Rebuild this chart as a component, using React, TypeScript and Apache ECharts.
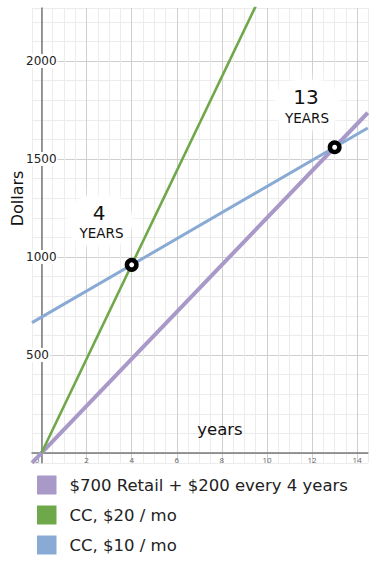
import React, { useEffect, useRef } from "react";
import * as echarts from "echarts";

const seriesNames = ["$700 Retail + $200 every 4 years", "CC, $20 / mo", "CC, $10 / mo"];
const seriesColors = ["#a999c8", "#6fa84a", "#89aad4"];
const purplePts = [[-0.42, -50], [14.47, 1736]];
const greenPts = [[0, 0], [9.5, 2280]];
const bluePts = [[-0.42, 665], [14.47, 1658]];
const crossings = [[4, 960], [13, 1560]];
const crossingLabels = [["4", "YEARS"], ["13", "YEARS"]];
const xExtent = [-0.42, 14.47];
const yExtent = [-50, 2270];

const FONT = "'DejaVu Sans', 'Open Sans', sans-serif";
const FONT2 = "'Open Sans', 'Noto Sans', sans-serif";

export default function App() {
  const ref = useRef<HTMLDivElement>(null);
  useEffect(() => {
    if (!ref.current) return;
    const chart = echarts.init(ref.current, undefined, { renderer: "svg" });
    const minorC = "#ececec";
    const majorC = "#cfcfcf";
    const option: any = {
      animation: false,
      backgroundColor: "#ffffff",
      grid: { left: 32, right: 9.2, top: 8.1, bottom: 104.2, containLabel: false },
      xAxis: {
        type: "value",
        min: xExtent[0],
        max: xExtent[1],
        splitNumber: 30,
        axisLine: { onZero: true, lineStyle: { color: "#7a7a7a", width: 1.5 } },
        axisTick: { show: false },
        axisLabel: {
          margin: -7.5,
          fontSize: 8,
          color: "#666",
          fontFamily: FONT2,
          showMinLabel: false,
          showMaxLabel: false,
          formatter: (v: number) => {
            if (Math.abs(v) < 1e-9) return "{z|0}";
            return Math.abs(v % 2) < 1e-9 && v > 0 ? String(v) : "";
          },
          rich: { z: { fontSize: 8, color: "#666", padding: [0, 9, 0, 0] } },
        },
        splitLine: { show: true, lineStyle: { color: [minorC, majorC, minorC, minorC], width: 1 } },
      },
      yAxis: {
        type: "value",
        min: yExtent[0],
        max: yExtent[1],
        splitNumber: 23,
        axisLine: { onZero: true, lineStyle: { color: "#7a7a7a", width: 1.5 } },
        axisTick: { show: false },
        axisLabel: {
          margin: 7,
          align: "left",
          fontSize: 12,
          color: "#222",
          fontFamily: FONT,
          backgroundColor: "#ffffff",
          padding: [1, 1, 1, 1],
          showMinLabel: false,
          showMaxLabel: false,
          formatter: (v: number) => (v > 0 && Math.abs(v % 500) < 1e-9 ? String(v) : ""),
        },
        splitLine: { show: true, lineStyle: { color: [minorC, majorC, minorC, minorC, minorC], width: 1 } },
      },
      legend: {
        orient: "vertical",
        left: 37,
        top: 475.5,
        padding: 0,
        itemWidth: 19.5,
        itemHeight: 19,
        itemGap: 11,
        icon: "rect",
        data: seriesNames,
        textStyle: { fontSize: 16.5, color: "#222", fontFamily: FONT, padding: [2, 0, 0, 8] },
      },
      series: [
        {
          name: seriesNames[0],
          type: "line",
          data: purplePts,
          symbol: "none",
          z: 3,
          itemStyle: { color: seriesColors[0] },
          lineStyle: { color: seriesColors[0], width: 4 },
        },
        {
          name: seriesNames[1],
          type: "line",
          data: greenPts,
          symbol: "none",
          z: 3,
          itemStyle: { color: seriesColors[1] },
          lineStyle: { color: seriesColors[1], width: 2.6 },
        },
        {
          name: seriesNames[2],
          type: "line",
          data: bluePts,
          symbol: "none",
          z: 3,
          itemStyle: { color: seriesColors[2] },
          lineStyle: { color: seriesColors[2], width: 3 },
        },
        {
          name: "crossings",
          type: "scatter",
          data: crossings,
          symbol: "circle",
          symbolSize: 9.5,
          z: 5,
          itemStyle: { color: "#ffffff", borderColor: "#000000", borderWidth: 4.5, opacity: 1 },
        },
      ],
      graphic: [
        {
          type: "rect",
          z: 1,
          shape: { x: 68, y: 196, width: 64, height: 50, r: 22 },
          style: { fill: "rgba(255,255,255,0.92)", shadowBlur: 14, shadowColor: "#ffffff" },
        },
        {
          type: "rect",
          z: 1,
          shape: { x: 275, y: 80, width: 64, height: 50, r: 22 },
          style: { fill: "rgba(255,255,255,0.92)", shadowBlur: 14, shadowColor: "#ffffff" },
        },
        {
          type: "text",
          z: 10,
          x: 99,
          y: 213,
          style: { text: crossingLabels[0][0], fontSize: 20, fontFamily: FONT, fill: "#111", align: "center", verticalAlign: "middle" },
        },
        {
          type: "text",
          z: 10,
          x: 101.5,
          y: 232.5,
          style: { text: crossingLabels[0][1], fontSize: 13.5, fontFamily: FONT, fill: "#111", align: "center", verticalAlign: "middle" },
        },
        {
          type: "text",
          z: 10,
          x: 306,
          y: 97,
          style: { text: crossingLabels[1][0], fontSize: 20, fontFamily: FONT, fill: "#111", align: "center", verticalAlign: "middle" },
        },
        {
          type: "text",
          z: 10,
          x: 307,
          y: 117.5,
          style: { text: crossingLabels[1][1], fontSize: 13.5, fontFamily: FONT, fill: "#111", align: "center", verticalAlign: "middle" },
        },
        {
          type: "text",
          z: 10,
          x: 17.5,
          y: 198.5,
          rotation: Math.PI / 2,
          style: { text: "Dollars", fontSize: 16, fontFamily: FONT, fill: "#111", align: "center", verticalAlign: "middle" },
        },
        {
          type: "text",
          z: 10,
          x: 220,
          y: 429,
          style: { text: "years", fontSize: 16.5, fontFamily: FONT, fill: "#111", align: "center", verticalAlign: "middle" },
        },
      ],
    };
    chart.setOption(option);
    return () => chart.dispose();
  }, []);
  return (
    <div
      ref={ref}
      style={{ position: "fixed", left: 0, top: 0, width: 377, height: 567, background: "#fff" }}
    />
  );
}
